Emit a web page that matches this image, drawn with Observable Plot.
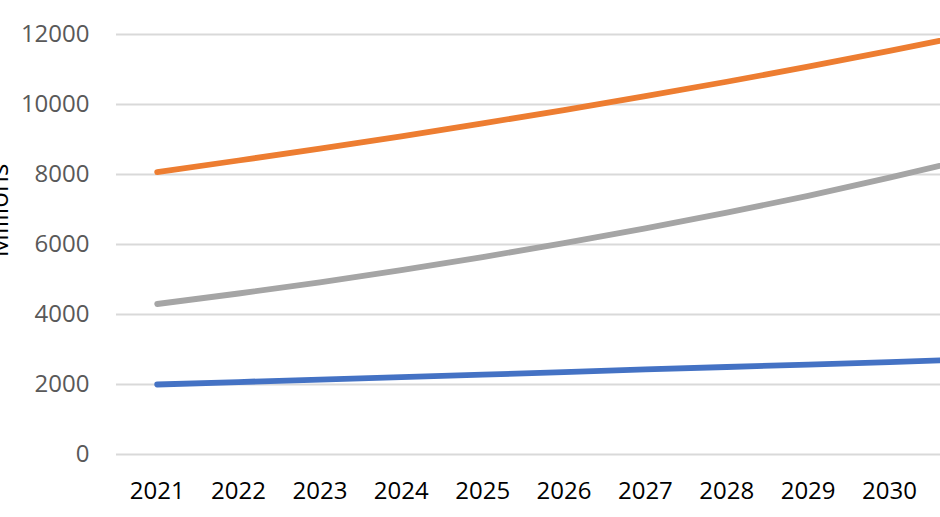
<!DOCTYPE html>
<html><head><meta charset="utf-8">
<script src="https://cdn.jsdelivr.net/npm/d3@7"></script>
<script src="https://cdn.jsdelivr.net/npm/@observablehq/plot@0.6"></script>
<style>body{margin:0;background:#fff;overflow:hidden} svg{display:block}</style>
</head><body><div id="chart"></div>
<script>
const years = [2021, 2022, 2023, 2024, 2025, 2026, 2027, 2028, 2029, 2030, 2031];
const series1 = [2000, 2070, 2140, 2210, 2280, 2355, 2430, 2500, 2570, 2640, 2720];
const series2 = [8070, 8400, 8740, 9090, 9460, 9840, 10240, 10650, 11080, 11530, 12000];
const series3 = [4300, 4600, 4920, 5270, 5640, 6040, 6460, 6910, 7390, 7910, 8460];
const seriesNames = ["Series 1", "Series 2", "Series 3"];
const seriesColors = ["#4472C4", "#ED7D31", "#A5A5A5"];
const yTicks = [0, 2000, 4000, 6000, 8000, 10000, 12000];
const xTicks = [2021, 2022, 2023, 2024, 2025, 2026, 2027, 2028, 2029, 2030];
const axisTitle = "Millions";

const data = [];
[series1, series2, series3].forEach((s, i) =>
  s.forEach((v, j) => data.push({year: years[j], value: v, series: seriesNames[i]})));

const chart = Plot.plot({
  width: 940, height: 517,
  marginLeft: 116, marginRight: 0, marginTop: 34, marginBottom: 63,
  style: {fontFamily: "Open Sans", fontSize: "24px", background: "#fff", overflow: "hidden"},
  x: {domain: [2020.5, 2030.627]},
  y: {domain: [0, 12000]},
  color: {domain: seriesNames, range: seriesColors},
  marks: [
    Plot.ruleY(yTicks, {stroke: "#D9D9D9", strokeWidth: 2}),
    Plot.line(data, {x: "year", y: "value", z: "series", stroke: "series", strokeWidth: 5.8, strokeLinecap: "round", strokeLinejoin: "round", clip: true}),
    Plot.axisY({ticks: yTicks, tickSize: 0, tickPadding: 27, label: null, tickFormat: d => String(d), color: "#595959"}),
    Plot.axisX({ticks: xTicks, tickSize: 0, tickPadding: 27, label: null, tickFormat: d => String(d), color: "#000"}),
    Plot.text([axisTitle], {frameAnchor: "left", text: d => d, rotate: -90, textAnchor: "middle", dx: -109, dy: -34, lineAnchor: "bottom", fontSize: 26, fill: "#000"})
  ]
});
document.getElementById("chart").append(chart);
</script>
</body></html>
